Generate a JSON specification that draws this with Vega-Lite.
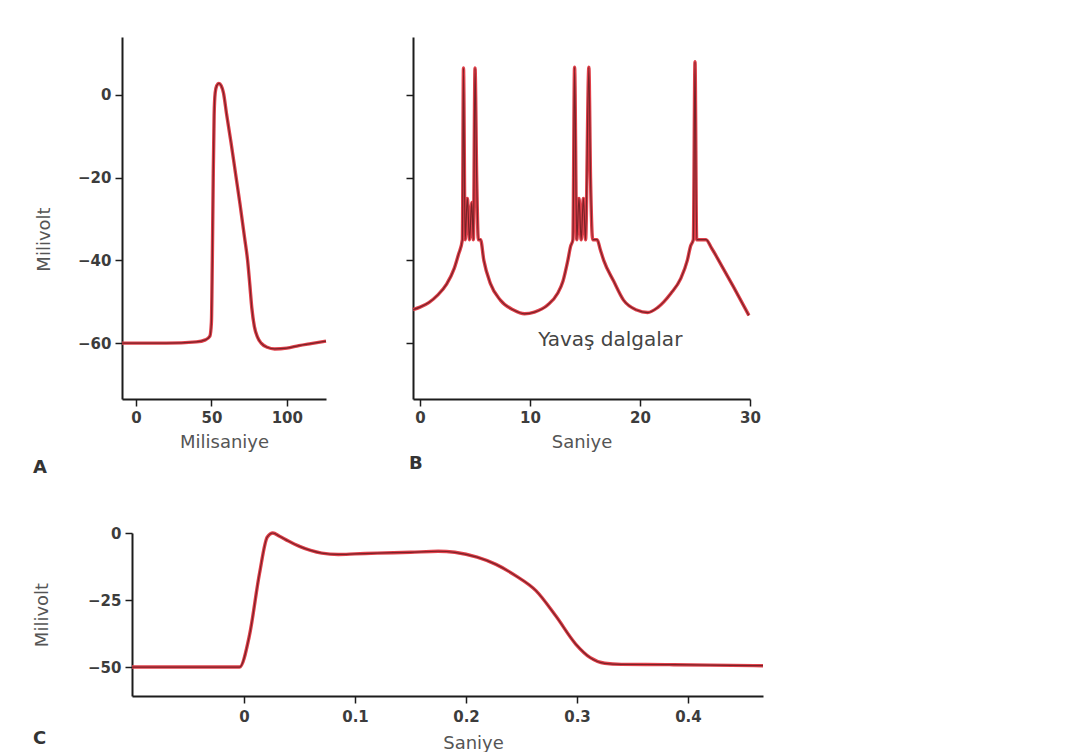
{
  "$schema": "https://vega.github.io/schema/vega-lite/v6.json",
  "background": "white",
  "padding": {"left": 33, "top": 37, "right": 5, "bottom": 0},
  "config": {
    "view": {"stroke": null},
    "axis": {"grid": false, "domainColor": "#1c1c1c", "domainWidth": 2, "tickColor": "#1c1c1c", "tickWidth": 1.5, "tickSize": 7, "labelFont": "DejaVu Sans", "labelFontSize": 15, "labelFontWeight": "bold", "labelColor": "#3c3c3c", "labelPadding": 4, "labelFlush": false, "titleFont": "DejaVu Sans", "titleFontSize": 18, "titleFontWeight": "normal", "titleColor": "#555555"},
    "title": {"font": "DejaVu Sans", "fontSize": 18, "fontWeight": "bold", "color": "#333333"}
  },
  "datasets": {
    "A": [
      {"t": -9.3, "v": -60}, {"t": 0, "v": -60}, {"t": 20, "v": -60}, {"t": 40, "v": -59.7}, {"t": 46, "v": -59.2}, {"t": 49, "v": -58.3}, {"t": 50, "v": -55}, {"t": 50.6, "v": -40}, {"t": 51.2, "v": -20}, {"t": 51.8, "v": -5}, {"t": 52.5, "v": 0.5}, {"t": 53.5, "v": 2.2}, {"t": 55, "v": 2.8}, {"t": 56.5, "v": 2.2}, {"t": 58, "v": 0.5}, {"t": 60, "v": -4.5}, {"t": 63, "v": -11.5}, {"t": 66, "v": -19}, {"t": 69, "v": -26.5}, {"t": 72, "v": -34.5}, {"t": 74, "v": -40}, {"t": 75.5, "v": -46}, {"t": 76.8, "v": -51.5}, {"t": 78.5, "v": -56}, {"t": 80.5, "v": -58.5}, {"t": 83, "v": -60}, {"t": 87, "v": -61}, {"t": 92, "v": -61.4}, {"t": 100, "v": -61.2}, {"t": 108, "v": -60.6}, {"t": 116, "v": -60.1}, {"t": 126, "v": -59.5}
    ],
    "B": [
      {"t": -0.64, "v": -51.9}, {"t": 0, "v": -51.3}, {"t": 0.8, "v": -50.2}, {"t": 1.6, "v": -48.4}, {"t": 2.4, "v": -45.8}, {"t": 3.1, "v": -42}, {"t": 3.5, "v": -38.5}, {"t": 3.85, "v": -35},
      {"t": 3.95, "v": 6.5}, {"t": 4.1, "v": -35}, {"t": 4.3, "v": -25}, {"t": 4.5, "v": -35}, {"t": 4.7, "v": -26}, {"t": 4.85, "v": -35}, {"t": 5.0, "v": 6.5}, {"t": 5.15, "v": -20}, {"t": 5.3, "v": -35}, {"t": 5.5, "v": -35},
      {"t": 5.8, "v": -40}, {"t": 6.4, "v": -45.6}, {"t": 7.3, "v": -49.6}, {"t": 8.5, "v": -52}, {"t": 9.5, "v": -52.9}, {"t": 10.4, "v": -52.5}, {"t": 11.6, "v": -50.8}, {"t": 12.5, "v": -48}, {"t": 13.0, "v": -45}, {"t": 13.4, "v": -40.5}, {"t": 13.7, "v": -36.5}, {"t": 13.9, "v": -35},
      {"t": 14.05, "v": 6.7}, {"t": 14.25, "v": -35}, {"t": 14.45, "v": -25}, {"t": 14.65, "v": -35}, {"t": 14.85, "v": -25}, {"t": 15.05, "v": -35}, {"t": 15.35, "v": 6.7}, {"t": 15.5, "v": -20}, {"t": 15.7, "v": -35}, {"t": 16.1, "v": -35},
      {"t": 16.4, "v": -37.5}, {"t": 16.7, "v": -40}, {"t": 17.6, "v": -45}, {"t": 18.5, "v": -49.6}, {"t": 19.7, "v": -52}, {"t": 20.7, "v": -52.6}, {"t": 21.6, "v": -51.4}, {"t": 22.8, "v": -48}, {"t": 23.7, "v": -44.4}, {"t": 24.3, "v": -40}, {"t": 24.6, "v": -36.5}, {"t": 24.85, "v": -35},
      {"t": 25.0, "v": 8}, {"t": 25.15, "v": -35}, {"t": 26.0, "v": -35}, {"t": 26.5, "v": -37}, {"t": 27.3, "v": -40.7}, {"t": 28.5, "v": -46.4}, {"t": 29.9, "v": -53.3}
    ],
    "C": [
      {"t": -0.1009, "v": -50}, {"t": -0.05, "v": -50}, {"t": -0.01, "v": -50}, {"t": -0.004, "v": -50}, {"t": 0.005, "v": -38}, {"t": 0.014, "v": -15}, {"t": 0.021, "v": -1.5}, {"t": 0.026, "v": 0}, {"t": 0.032, "v": -1.2}, {"t": 0.04, "v": -3}, {"t": 0.05, "v": -5}, {"t": 0.06, "v": -6.5}, {"t": 0.07, "v": -7.5}, {"t": 0.085, "v": -8}, {"t": 0.1, "v": -7.8}, {"t": 0.12, "v": -7.5}, {"t": 0.15, "v": -7.2}, {"t": 0.175, "v": -6.8}, {"t": 0.19, "v": -7.2}, {"t": 0.21, "v": -9}, {"t": 0.227, "v": -11.7}, {"t": 0.245, "v": -16}, {"t": 0.263, "v": -21.5}, {"t": 0.281, "v": -31}, {"t": 0.299, "v": -41.5}, {"t": 0.312, "v": -46.5}, {"t": 0.325, "v": -48.6}, {"t": 0.34, "v": -49}, {"t": 0.38, "v": -49.1}, {"t": 0.42, "v": -49.3}, {"t": 0.4676, "v": -49.5}
    ]
  },
  "bounds": "full",
  "spacing": 49,
  "vconcat": [
    {
      "bounds": "flush",
      "spacing": 87,
      "hconcat": [
        {
          "width": 204,
          "height": 362,
          "data": {"name": "A"},
          "title": {"text": "A", "orient": "bottom", "anchor": "start", "frame": "group", "dx": -89, "offset": 8},
          "encoding": {
            "x": {"field": "t", "type": "quantitative", "scale": {"domain": [-9.3, 126], "nice": false, "zero": false}, "axis": {"values": [0, 50, 100], "title": "Milisaniye", "titlePadding": 8}},
            "y": {"field": "v", "type": "quantitative", "scale": {"domain": [-73.5, 14], "nice": false, "zero": false}, "axis": {"values": [0, -20, -40, -60], "title": "Milivolt", "titleX": -69, "titleY": 202}}
          },
          "layer": [
            {"mark": {"type": "line", "color": "#e0404a", "strokeWidth": 3.4, "interpolate": "monotone"}},
            {"mark": {"type": "line", "color": "#7a2228", "strokeWidth": 1.2, "interpolate": "monotone"}}
          ]
        },
        {
          "width": 337,
          "height": 362,
          "title": {"text": "B", "orient": "bottom", "anchor": "start", "frame": "group", "dx": -4, "offset": 4},
          "layer": [
            {
              "data": {"name": "B"},
              "mark": {"type": "line", "color": "#e0404a", "strokeWidth": 3.4, "interpolate": "monotone"},
              "encoding": {
                "x": {"field": "t", "type": "quantitative", "scale": {"domain": [-0.64, 30], "nice": false, "zero": false}, "axis": {"values": [0, 10, 20, 30], "title": "Saniye", "titlePadding": 8}},
                "y": {"field": "v", "type": "quantitative", "scale": {"domain": [-73.5, 14], "nice": false, "zero": false}, "axis": {"values": [0, -20, -40, -60], "labels": false, "title": null}}
              }
            },
            {
              "data": {"name": "B"},
              "mark": {"type": "line", "color": "#7a2228", "strokeWidth": 1.2, "interpolate": "monotone"},
              "encoding": {
                "x": {"field": "t", "type": "quantitative"},
                "y": {"field": "v", "type": "quantitative"}
              }
            },
            {
              "data": {"values": [{"label": "Yavaş dalgalar", "t": 17.3, "v": -59.2}]},
              "mark": {"type": "text", "font": "DejaVu Sans", "fontSize": 20, "color": "#444444", "align": "center", "baseline": "middle"},
              "encoding": {
                "x": {"field": "t", "type": "quantitative"},
                "y": {"field": "v", "type": "quantitative"},
                "text": {"field": "label"}
              }
            }
          ]
        }
      ]
    },
    {
      "width": 641,
      "height": 163,
      "data": {"name": "C"},
      "title": {"text": "C", "orient": "bottom", "anchor": "start", "frame": "group", "dx": -89, "offset": -22},
      "encoding": {
        "x": {"field": "t", "type": "quantitative", "scale": {"domain": [-0.1009, 0.4676], "nice": false, "zero": false, "range": [10, 641]}, "axis": {"values": [0, 0.1, 0.2, 0.3, 0.4], "format": "~g", "title": "Saniye", "titleX": 351, "titlePadding": 10, "labelPadding": 6}},
        "y": {"field": "v", "type": "quantitative", "scale": {"domain": [-60.8, 0], "nice": false, "zero": false}, "axis": {"values": [0, -25, -50], "title": "Milivolt", "offset": -10, "titleX": -81}}
      },
      "layer": [
        {"mark": {"type": "line", "color": "#e0404a", "strokeWidth": 3.4, "interpolate": "monotone"}},
        {"mark": {"type": "line", "color": "#7a2228", "strokeWidth": 1.2, "interpolate": "monotone"}}
      ]
    }
  ]
}
